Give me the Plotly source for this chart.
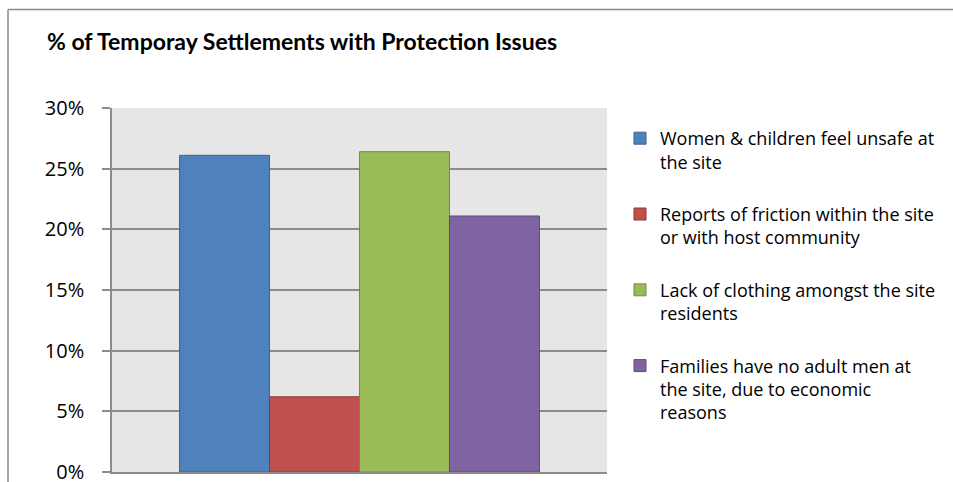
import plotly.graph_objects as go

# Share of temporary settlements reporting each protection issue
categories = ["Sites"]
series_names = [
    "Women & children feel unsafe at<br>the site",
    "Reports of friction within the site<br>or with host community",
    "Lack of clothing amongst the site<br>residents",
    "Families have no adult men at<br>the site, due to economic<br>reasons",
]
series_values = [0.261, 0.062, 0.264, 0.211]
fill_colors = ["#4f81bd", "#c0504d", "#9bbb59", "#8064a2"]
edge_colors = ["#3a6392", "#8e3a38", "#728b41", "#5e4a79"]
y_tick_values = [0, 0.05, 0.10, 0.15, 0.20, 0.25, 0.30]
y_tick_labels = ["0%", "5%", "10%", "15%", "20%", "25%", "30%"]

TITLE_FONT = "Lato"
BODY_FONT = "Open Sans"
W, H = 953, 482
M_L, M_R, M_T, M_B = 112, 346, 108, 10

fig = go.Figure()
for i, (name, val) in enumerate(zip(series_names, series_values)):
    fig.add_trace(go.Bar(
        x=categories,
        y=[val],
        name=name,
        legendgroup=f"g{i}",
        marker=dict(color=fill_colors[i], line=dict(color=edge_colors[i], width=1)),
        hoverinfo="skip",
    ))

grid_gray = "#8c8c8c"
plot_w = W - M_L - M_R
plot_h = H - M_T - M_B

fig.update_layout(
    width=W,
    height=H,
    margin=dict(l=M_L, r=M_R, t=M_T, b=M_B, pad=0, autoexpand=False),
    paper_bgcolor="white",
    plot_bgcolor="#e6e6e6",
    barmode="group",
    bargap=0.273,
    bargroupgap=0,
    font=dict(family=BODY_FONT, color="black"),
    title=dict(
        text="<b>% of Temporay Settlements with Protection Issues</b>",
        font=dict(family=TITLE_FONT, size=23, color="black"),
        x=47 / W,
        xanchor="left",
        xref="container",
        y=1 - 41.5 / H,
        yanchor="middle",
        yref="container",
    ),
    showlegend=True,
    legend=dict(
        x=(620 - M_L) / plot_w,
        xanchor="left",
        y=1 - (120 - M_T) / plot_h,
        yanchor="top",
        valign="top",
        traceorder="grouped",
        tracegroupgap=26,
        font=dict(family=BODY_FONT, size=18, color="black"),
        bgcolor="rgba(0,0,0,0)",
        borderwidth=0,
        itemclick=False,
        itemdoubleclick=False,
    ),
    xaxis=dict(
        showticklabels=False,
        ticks="",
        showgrid=False,
        showline=True,
        linecolor=grid_gray,
        linewidth=1.5,
        zeroline=False,
        automargin=False,
    ),
    yaxis=dict(
        range=[0, 0.30],
        tickvals=y_tick_values,
        ticktext=y_tick_labels,
        ticks="outside",
        ticklen=8,
        tickwidth=1.5,
        tickcolor=grid_gray,
        ticklabelstandoff=14,
        ticklabeloverflow="allow",
        tickfont=dict(family=BODY_FONT, size=20, color="black"),
        showgrid=True,
        gridcolor=grid_gray,
        gridwidth=1.5,
        showline=True,
        linecolor=grid_gray,
        linewidth=1.5,
        zeroline=False,
        automargin=False,
    ),
)

# Outer chart frame: left and top edges only
frame_x = (8 - M_L) / plot_w
frame_y = 1 + (M_T - 9.5) / plot_h
fig.add_shape(type="line", xref="paper", yref="paper",
              x0=frame_x, x1=frame_x, y0=frame_y, y1=-0.1,
              line=dict(color="#8a8a8a", width=1.5))
fig.add_shape(type="line", xref="paper", yref="paper",
              x0=frame_x, x1=1 + M_R / plot_w + 0.05, y0=frame_y, y1=frame_y,
              line=dict(color="#8a8a8a", width=1.5))

fig.write_html("out.html")
